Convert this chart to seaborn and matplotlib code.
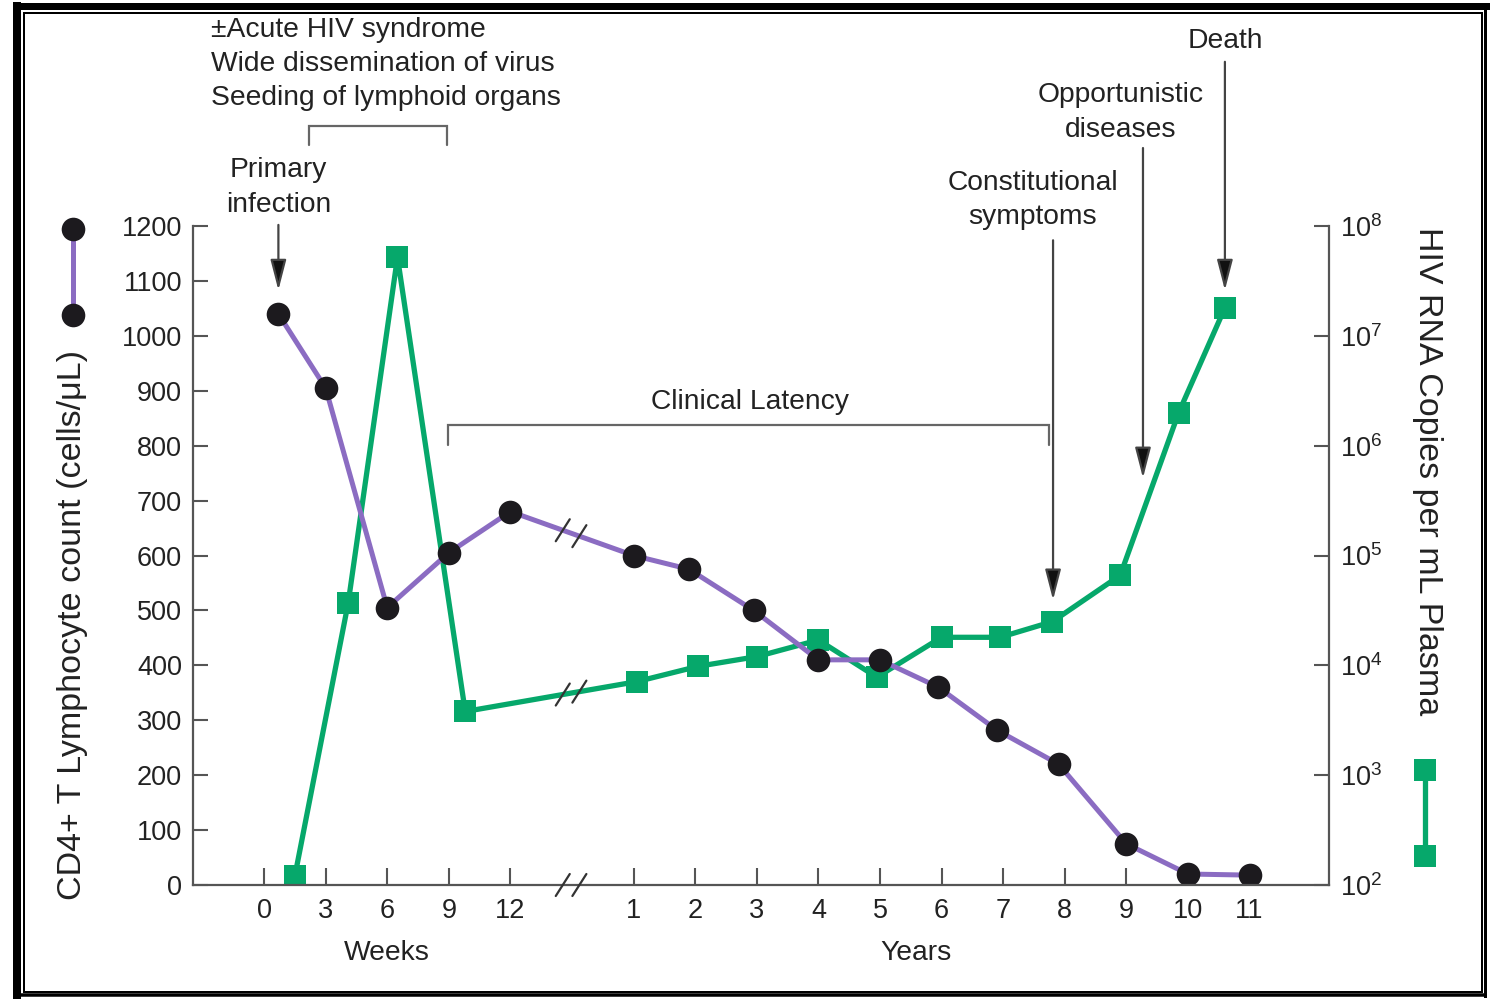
import numpy as np
import pandas as pd
import matplotlib
matplotlib.use("Agg")
import matplotlib.pyplot as plt
from matplotlib.lines import Line2D
from matplotlib.transforms import IdentityTransform
from matplotlib.ticker import NullLocator
import seaborn as sns

# ---- data -------------------------------------------------------------
# CD4+ T lymphocyte count (cells/uL): early phase in weeks, later phase in years
cd4_weeks = [0.7, 3, 6, 9, 12]
cd4_weeks_counts = [1040, 905, 505, 605, 680]
cd4_years = [1, 1.9, 2.95, 4, 5, 5.95, 6.9, 7.9, 9, 10, 11]
cd4_years_counts = [600, 575, 500, 410, 410, 360, 282, 220, 75, 20, 18]

# HIV RNA copies per mL plasma
rna_weeks = [1.5, 4.1, 6.5, 9.8]
rna_weeks_copies = [1.2e2, 3.7e4, 5.2e7, 3.8e3]
rna_years = [1.05, 2.05, 3, 4, 4.95, 6, 6.95, 7.8, 8.9, 9.85, 10.6]
rna_years_copies = [7.1e3, 9.8e3, 1.2e4, 1.7e4, 7.8e3, 1.8e4, 1.8e4, 2.5e4,
                    6.6e4, 2.0e6, 1.8e7]

week_ticks = [0, 3, 6, 9, 12]
year_ticks = [1, 2, 3, 4, 5, 6, 7, 8, 9, 10, 11]
cd4_ticks = [0, 100, 200, 300, 400, 500, 600, 700, 800, 900, 1000, 1100, 1200]
rna_exponents = [2, 3, 4, 5, 6, 7, 8]

# ---- style ------------------------------------------------------------
sns.set_theme(style="white")
plt.rcParams["font.family"] = ["Liberation Sans", "DejaVu Sans"]
plt.rcParams["mathtext.fontset"] = "custom"
plt.rcParams["mathtext.rm"] = "Liberation Sans"
plt.rcParams["mathtext.default"] = "regular"

PURPLE = "#8b6cc2"
DOT = "#1c1a1e"
GREEN = "#06a86b"
AXIS = "#555555"
TEXT = "#222222"
FS = 19.5       # tick labels
FS_NOTE = 20.3  # annotations


# one shared horizontal scale: 3 weeks per unit, then one year per unit
def week_pos(w):
    return np.asarray(w, dtype=float) / 3.0


def year_pos(y):
    return np.asarray(y, dtype=float) + 5.0


cd4 = pd.DataFrame({
    "pos": np.concatenate([week_pos(cd4_weeks), year_pos(cd4_years)]),
    "count": cd4_weeks_counts + cd4_years_counts,
})
rna = pd.DataFrame({
    "pos": np.concatenate([week_pos(rna_weeks), year_pos(rna_years)]),
    "copies": rna_weeks_copies + rna_years_copies,
})

W, H = 1491, 999
fig = plt.figure(figsize=(W / 100, H / 100), dpi=100)
fig.patch.set_facecolor("white")


def fx(px):
    return px / W


def fy(py):
    return 1 - py / H


ax = fig.add_axes([fx(193), fy(885), fx(1329) - fx(193), fy(226) - fy(885)])
ax2 = ax.twinx()
ax.set_zorder(ax2.get_zorder() + 1)
ax.patch.set_visible(False)

ax2.set_yscale("log")
sns.lineplot(data=rna, x="pos", y="copies", ax=ax2, color=GREEN, linewidth=3.8,
             marker="s", markersize=15.5, markerfacecolor=GREEN,
             markeredgecolor=GREEN, markeredgewidth=0, estimator=None, sort=False)
sns.lineplot(data=cd4, x="pos", y="count", ax=ax, color=PURPLE, linewidth=3.6,
             marker="o", markersize=17, markerfacecolor=DOT,
             markeredgecolor=DOT, markeredgewidth=0, estimator=None, sort=False)

ax.set_xlim(-1.153, 17.29)
ax.set_ylim(0, 1200)
ax2.set_ylim(1e2, 1e8)
ax.set_xlabel("")
ax.set_ylabel("")
ax2.set_ylabel("")

# spines
for s in ["top", "right"]:
    ax.spines[s].set_visible(False)
for s in ["top", "left", "bottom"]:
    ax2.spines[s].set_visible(False)
for sp in [ax.spines["left"], ax.spines["bottom"], ax2.spines["right"]]:
    sp.set_color(AXIS)
    sp.set_linewidth(1.6)

# ticks
ax.set_yticks(cd4_ticks)
ax.set_yticklabels([str(t) for t in cd4_ticks])
xt = np.concatenate([week_pos(week_ticks), year_pos(year_ticks)])
ax.set_xticks(xt)
ax.set_xticklabels([str(t) for t in week_ticks] + [str(t) for t in year_ticks])
ax2.set_yticks([10.0 ** e for e in rna_exponents])
ax2.set_yticklabels([f"10$^{{{e}}}$" for e in rna_exponents])
ax2.yaxis.set_minor_locator(NullLocator())

ax.tick_params(axis="y", direction="in", length=11, width=1.5, pad=8,
               color=AXIS, labelcolor=TEXT, labelsize=FS, left=True)
ax.tick_params(axis="x", direction="in", length=12, width=1.5, pad=9,
               color=AXIS, labelcolor=TEXT, labelsize=FS, bottom=True)
ax2.tick_params(axis="y", direction="in", length=11, width=1.5, pad=8,
                color=AXIS, labelcolor=TEXT, labelsize=FS, right=True)

# axis titles
fig.text(fx(73), fy(625), "CD4+ T Lymphocyte count (cells/\u03bcL)", rotation=90,
         ha="center", va="center", fontsize=24.5, color=TEXT)
fig.text(fx(1428), fy(471), "HIV RNA Copies per mL Plasma", rotation=270,
         ha="center", va="center", fontsize=24.5, color=TEXT)
ax.text(week_pos(6), -124, "Weeks", ha="center", va="center", fontsize=FS_NOTE,
        color=TEXT)
ax.text(10.58, -124, "Years", ha="center", va="center", fontsize=FS_NOTE, color=TEXT)

# series keys beside the axes
fig.add_artist(Line2D([fx(73), fx(73)], [fy(229), fy(315)], color=PURPLE, lw=3.6,
                      marker="o", markersize=17, markerfacecolor=DOT,
                      markeredgecolor=DOT, markeredgewidth=0))
fig.add_artist(Line2D([fx(1425), fx(1425)], [fy(770), fy(856)], color=GREEN, lw=3.8,
                      marker="s", markersize=15.5, markerfacecolor=GREEN,
                      markeredgewidth=0))

# ---- annotations --------------------------------------------------------
BRACKET = "#666666"
arrow_kw = dict(arrowstyle="-|>,head_length=0.85,head_width=0.22", mutation_scale=22,
                lw=1.6, ec="#444444", fc="#111111", shrinkA=0, shrinkB=0)


def arrow(x, y0, y1):
    ax.annotate("", xy=(x, y1), xytext=(x, y0), arrowprops=arrow_kw,
                annotation_clip=False)


def bracket(x0, x1, ytop, ybot):
    ax.plot([x0, x0, x1, x1], [ybot, ytop, ytop, ybot], color=BRACKET, lw=1.6,
            clip_on=False, solid_joinstyle="miter")


ax.text(cd4["pos"][0], 1270, "Primary\ninfection", ha="center", va="center",
        fontsize=FS_NOTE, color=TEXT, linespacing=1.42)
arrow(cd4["pos"][0], 1202, 1083)

ax.text(-0.86, 1495, "\u00b1Acute HIV syndrome\nWide dissemination of virus\n"
        "Seeding of lymphoid organs", ha="left", va="center", fontsize=FS_NOTE,
        color=TEXT, linespacing=1.42)
bracket(0.73, 2.97, 1382, 1347)

ax.text(7.89, 879, "Clinical Latency", ha="center", va="center", fontsize=FS_NOTE,
        color=TEXT)
bracket(2.99, 12.74, 838, 801)

ax.text(12.48, 1247, "Constitutional\nsymptoms", ha="center", va="center",
        fontsize=FS_NOTE, color=TEXT, linespacing=1.42)
arrow(12.81, 1174, 519)

ax.text(13.91, 1407, "Opportunistic\ndiseases", ha="center", va="center",
        fontsize=FS_NOTE, color=TEXT, linespacing=1.42)
arrow(14.27, 1342, 741)

ax.text(rna["pos"].iloc[-1], 1537, "Death", ha="center", va="center",
        fontsize=FS_NOTE, color=TEXT)
arrow(rna["pos"].iloc[-1], 1499, 1083)

# ---- scale break marks ("//") on the axis and on both series -----------
fig.canvas.draw()
break_pos = [4.85, 5.12]


def slash(disp_x, disp_y):
    fig.add_artist(Line2D([disp_x - 7, disp_x + 7], [disp_y - 11, disp_y + 11],
                          color="#333333", lw=1.6, transform=IdentityTransform()))


for bp in break_pos:
    # on the horizontal axis
    dx, dy = ax.transData.transform((bp, 0))
    slash(dx, dy)
    # on the CD4 series
    yc = np.interp(bp, cd4["pos"], cd4["count"])
    dx, dy = ax.transData.transform((bp, yc))
    slash(dx, dy)
    # on the RNA series (interpolated on the log scale)
    yr = 10 ** np.interp(bp, rna["pos"], np.log10(rna["copies"]))
    dx, dy = ax2.transData.transform((bp, yr))
    slash(dx, dy)

# ---- double frame around the figure ------------------------------------
def frame_line(x0, y0, x1, y1, lw_px):
    fig.add_artist(Line2D([fx(x0), fx(x1)], [fy(y0), fy(y1)], color="black",
                          lw=lw_px * 0.72, solid_capstyle="projecting"))


frame_line(17, 5.5, 1486, 5.5, 7)
frame_line(17, 5.5, 17, 996, 8)
frame_line(1485, 5.5, 1485, 996, 3)
frame_line(17, 995, 1485, 995, 3.5)
frame_line(24, 13, 1482, 13, 2)
frame_line(24, 13, 24, 992, 2)
frame_line(1482, 13, 1482, 992, 2)
frame_line(24, 992, 1482, 992, 2)

fig.savefig("out.png", dpi=100)
